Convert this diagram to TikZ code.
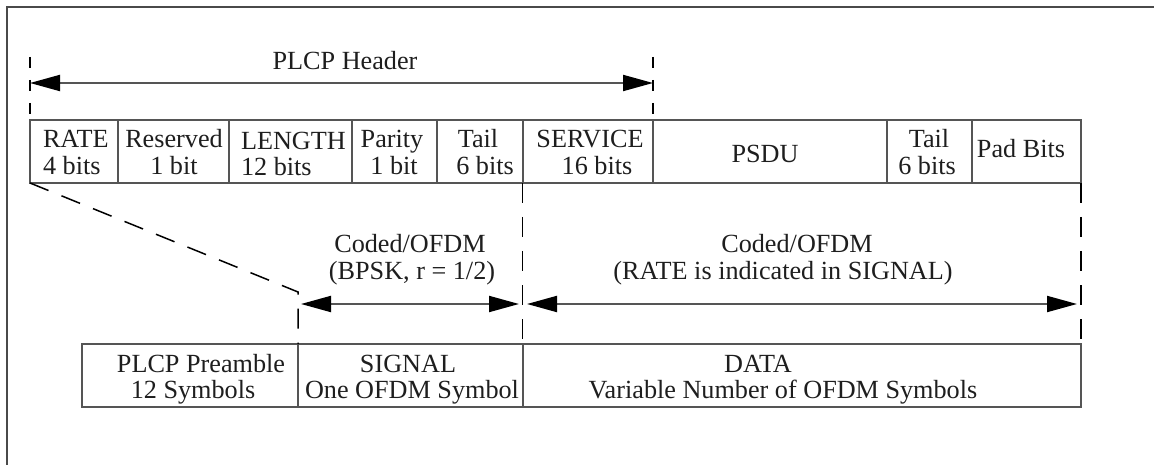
\documentclass[tikz,border=0pt]{standalone}
\usepackage{fontspec}
\setmainfont{Liberation Serif}
\usetikzlibrary{arrows.meta}
\definecolor{rule}{HTML}{555555}
\definecolor{ink}{HTML}{1E1E1E}
\definecolor{framec}{HTML}{4A4A4A}
\tikzset{
  fieldbox/.style={draw=rule, line width=2pt, inner sep=0pt, outer sep=0pt,
                   anchor=north west, minimum height=63pt},
  lbl/.style={text=ink, inner sep=0pt, outer sep=0pt, anchor=base,
              font=\fontsize{26.2}{27}\selectfont},
  lblw/.style={lbl, anchor=base west},
  dimarrow/.style={draw=rule, line width=2pt,
    {Triangle[length=30pt,width=16pt,color=black]}-{Triangle[length=30pt,width=16pt,color=black]}},
  guide/.style={draw=black, line width=1.5pt, dash pattern=on 20pt off 14pt},
  tickline/.style={draw=black, line width=1.5pt, dash pattern=on 11pt off 12pt},
}
\begin{document}
\begin{tikzpicture}[x=1pt,y=-1pt]
\useasboundingbox (0,0) rectangle (1154,465);

% outer frame
\draw[framec, line width=2.5pt] (7,470) -- (7,7) -- (1160,7);

% header fields
\node[fieldbox, minimum width=88pt]    (rate)     at (30,120)  {};
\node[fieldbox, minimum width=111pt]   (reserved) at (118,120) {};
\node[fieldbox, minimum width=123pt]   (length)   at (229,120) {};
\node[fieldbox, minimum width=85pt]    (parity)   at (352,120) {};
\node[fieldbox, minimum width=85.5pt]  (tail)     at (437,120) {};
\node[fieldbox, minimum width=130.5pt] (service)  at (522.5,120) {};
\node[fieldbox, minimum width=234pt]   (psdu)     at (653,120) {};
\node[fieldbox, minimum width=85pt]    (tailb)    at (887,120) {};
\node[fieldbox, minimum width=109pt]   (pad)      at (972,120) {};

\node[lblw] (rateA) at (43,148) {RATE};
\node[lblw] (rateB) at (43,175) {4 bits};
\node[lbl]  (resA)  at (174,148) {Reserved};
\node[lbl]  (resB)  at (174,175) {1 bit};
\node[lblw] (lenA)  at (241,150) {LENGTH};
\node[lblw] (lenB)  at (241,176) {12 bits};
\node[lbl]  (parA)  at (392,148) {Parity};
\node[lbl]  (parB)  at (394,175) {1 bit};
\node[lbl]  (tailA) at (478,148) {Tail};
\node[lbl]  (tailB) at (485,175) {6 bits};
\node[lbl]  (servA) at (590,148) {SERVICE};
\node[lbl]  (servB) at (597,175) {16 bits};
\node[lbl]  (psduA) at (765,163) {PSDU};
\node[lbl]  (tlbA)  at (929,148) {Tail};
\node[lbl]  (tlbB)  at (927,175) {6 bits};
\node[lbl]  (padA)  at (1021,158) {Pad Bits};

% PLCP header span
\coordinate (hdrTopL) at (30,57);
\coordinate (hdrTopR) at (653,57);
\draw[tickline] (hdrTopL) -- (rate.north west);
\draw[tickline] (hdrTopR) -- (service.north east);
\coordinate (hdrL) at (30,83);
\coordinate (hdrR) at (653,83);
\draw[dimarrow] (hdrL) -- (hdrR);
\node[lbl] (hdrText) at (345,70) {PLCP Header};

% frame segments
\node[fieldbox, minimum width=216pt]   (preamble) at (82,344)   {};
\node[fieldbox, minimum width=224.5pt] (signal)   at (298,344)  {};
\node[fieldbox, minimum width=558.5pt] (data)     at (522.5,344) {};

\node[lbl] (preA) at (201,372) {PLCP Preamble};
\node[lbl] (preB) at (193,398) {12 Symbols};
\node[lbl] (sigA) at (408,372) {SIGNAL};
\node[lbl] (sigB) at (412,398) {One OFDM Symbol};
\node[lbl] (datA) at (758,372) {DATA};
\node[lbl] (datB) at (783,398) {Variable Number of OFDM Symbols};

% guide lines from the header to the symbols
\coordinate (bend) at (298,292);
\draw[guide] (rate.south west) -- (bend) -- (signal.north west);
\draw[guide] (service.south west) -- (data.north west);
\draw[guide] (pad.south east) -- (data.north east);

% modulation spans
\coordinate (sigL) at (301,304);
\coordinate (sigR) at (519,304);
\coordinate (datL) at (527,304);
\coordinate (datR) at (1077,304);
\draw[dimarrow] (sigL) -- (sigR);
\draw[dimarrow] (datL) -- (datR);

\node[lbl] (codA) at (410,253) {Coded/OFDM};
\node[lbl] (codB) at (412,279) {(BPSK, r = 1/2)};
\node[lbl] (codC) at (797,253) {Coded/OFDM};
\node[lbl] (codD) at (783,279) {(RATE is indicated in SIGNAL)};
\end{tikzpicture}
\end{document}
